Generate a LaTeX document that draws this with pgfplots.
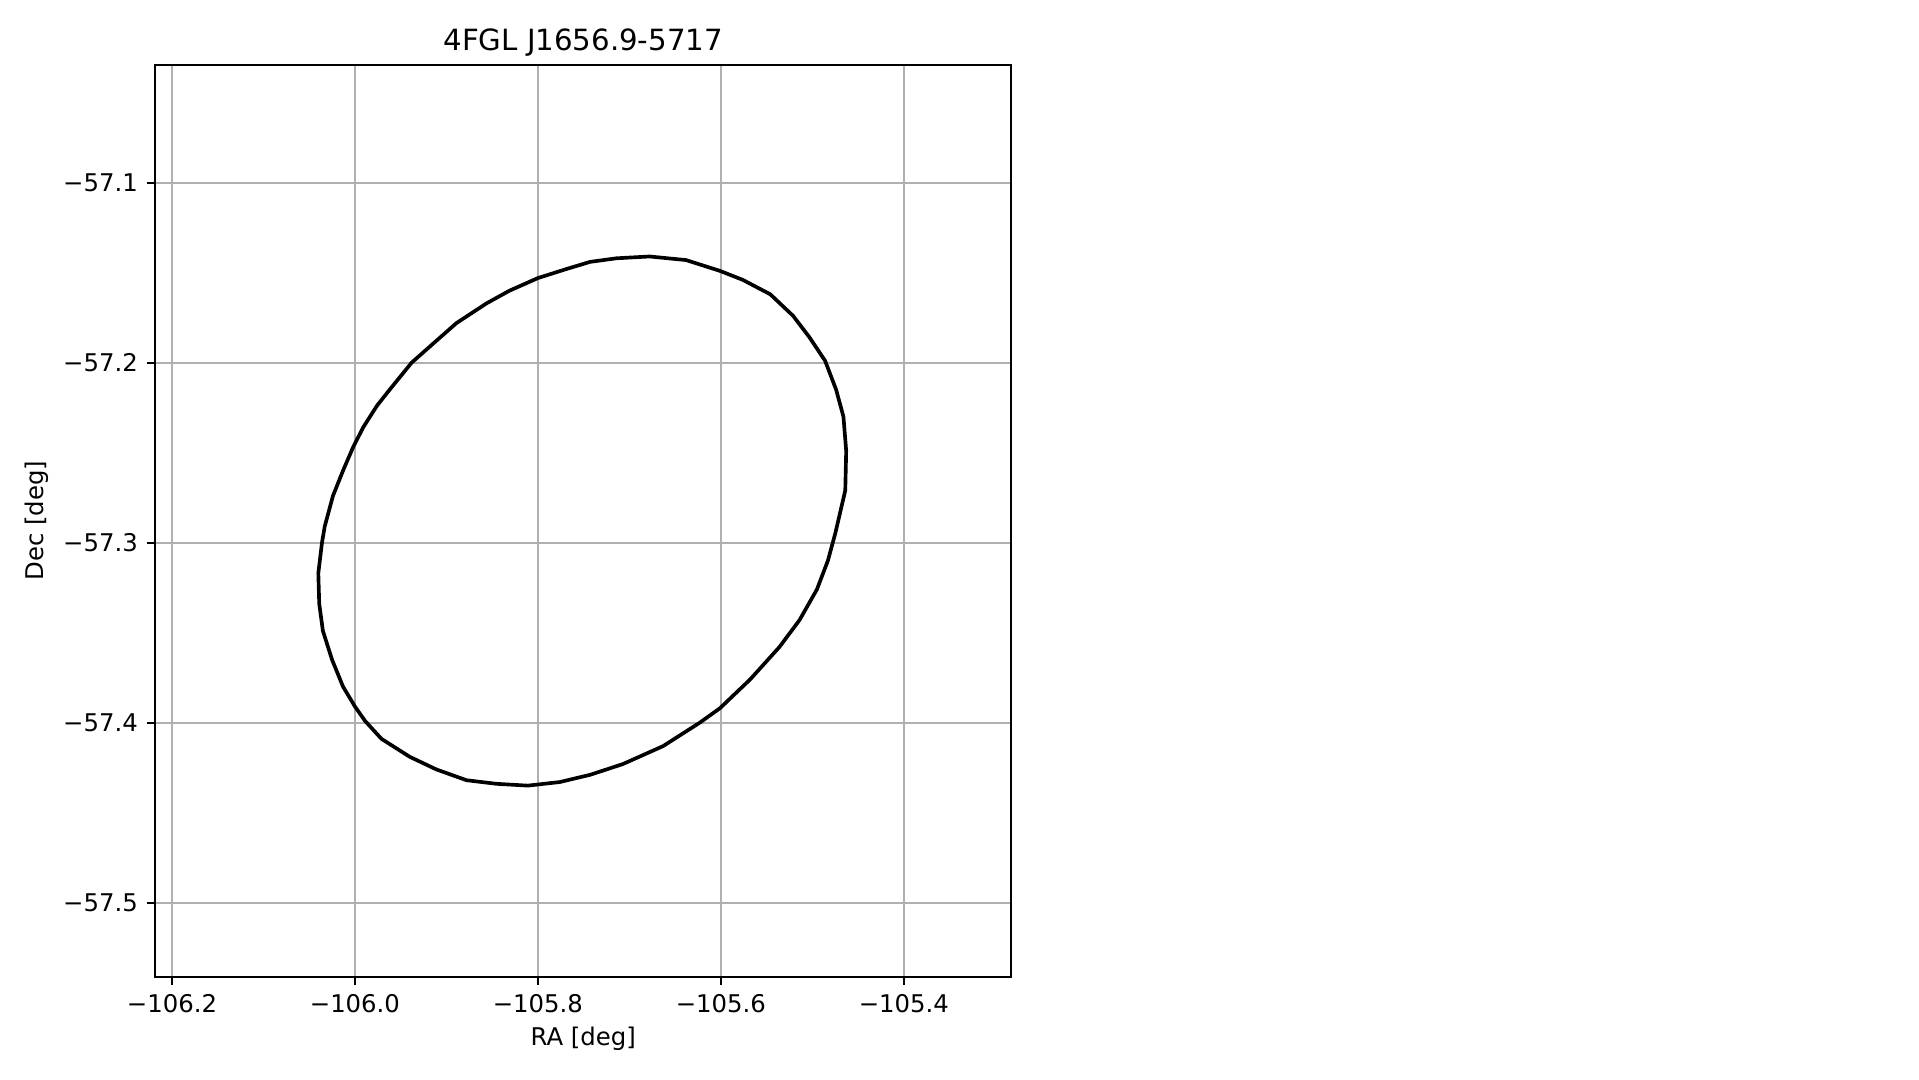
\documentclass[border=0pt]{standalone}
\usepackage{fontspec}
\setmainfont{DejaVu Sans}
\usepackage{pgfplots}
\pgfplotsset{compat=1.18}
\definecolor{gridc}{RGB}{176,176,176}
\begin{document}
\begin{tikzpicture}[x=1bp,y=1bp]
\path[use as bounding box] (0,0) rectangle (785,441.7);
\begin{axis}[
  at={(63.6bp,42.2bp)}, anchor=south west,
  scale only axis, width=349.9bp, height=372.9bp,
  xmin=-106.218, xmax=-105.283, ymin=-57.5411, ymax=-57.0346,
  xtick={-106.2,-106.0,-105.8,-105.6,-105.4},
  xticklabels={−106.2,−106.0,−105.8,−105.6,−105.4},
  ytick={-57.5,-57.4,-57.3,-57.2,-57.1},
  yticklabels={−57.5,−57.4,−57.3,−57.2,−57.1},
  xtick pos=left, ytick pos=left,
  tick align=outside, major tick length=3.5bp,
  tick style={black, line width=0.8bp},
  axis line style={black, line width=0.8bp},
  grid=major, grid style={gridc, line width=0.8bp},
  ticklabel style={font=\fontsize{10}{12}\selectfont},
  xticklabel style={inner sep=0pt, yshift=-3.5bp},
  yticklabel style={inner sep=0pt, xshift=-3.5bp},
  title={4FGL J1656.9-5717},
  title style={at={(axis description cs:0.5,1.0080)}, anchor=center, yshift=0pt, inner sep=0pt, font=\fontsize{12}{14.4}\selectfont},
  xlabel={RA [deg]},
  xlabel style={at={(axis description cs:0.5,-0.0684)}, anchor=center, inner sep=0pt, font=\fontsize{10}{12}\selectfont},
  ylabel={Dec [deg]},
  ylabel style={at={(axis description cs:-0.1386,0.5)}, anchor=center, inner sep=0pt, font=\fontsize{10}{12}\selectfont},
]
\addplot[black, line width=1.5bp, line join=round] coordinates {
(-105.678,-57.141) (-105.714,-57.142) (-105.743,-57.144) (-105.769,-57.148)
(-105.800,-57.153) (-105.831,-57.160) (-105.856,-57.167) (-105.889,-57.178)
(-105.918,-57.191) (-105.938,-57.200) (-105.962,-57.215) (-105.976,-57.224)
(-105.991,-57.236) (-106.002,-57.247) (-106.013,-57.260) (-106.024,-57.274)
(-106.033,-57.291) (-106.036,-57.300) (-106.040,-57.317) (-106.039,-57.334)
(-106.035,-57.349) (-106.025,-57.365) (-106.013,-57.380) (-106.000,-57.391)
(-105.989,-57.399) (-105.971,-57.409) (-105.940,-57.419) (-105.911,-57.426)
(-105.878,-57.432) (-105.845,-57.434) (-105.811,-57.435) (-105.776,-57.433)
(-105.743,-57.429) (-105.707,-57.423) (-105.663,-57.413) (-105.623,-57.400)
(-105.601,-57.392) (-105.568,-57.376) (-105.536,-57.358) (-105.514,-57.343)
(-105.495,-57.326) (-105.483,-57.310) (-105.475,-57.295) (-105.464,-57.271)
(-105.463,-57.249) (-105.466,-57.230) (-105.474,-57.215) (-105.486,-57.199)
(-105.503,-57.186) (-105.521,-57.174) (-105.546,-57.162) (-105.576,-57.154)
(-105.601,-57.149) (-105.638,-57.143) (-105.678,-57.141)
};
\end{axis}
\end{tikzpicture}
\end{document}
